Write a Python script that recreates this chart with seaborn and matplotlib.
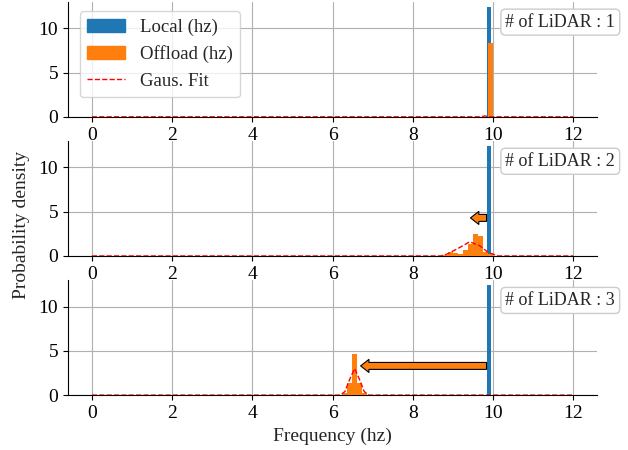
import numpy as np
import matplotlib
matplotlib.use("Agg")
import matplotlib.pyplot as plt
import seaborn as sns
from matplotlib.patches import Patch
from matplotlib.lines import Line2D

# valori
n_lidar = [1, 2, 3]
local_freq = 9.9
local_height = 12.4
bin_width = 0.125

offload_centers = [
    [9.93],
    [8.81, 8.94, 9.06, 9.19, 9.31, 9.44, 9.56, 9.69, 9.81, 9.94],
    [6.31, 6.43, 6.555, 6.675, 6.795],
]
offload_heights = [
    [8.3],
    [0.15, 0.45, 0.3, 0.2, 0.7, 1.3, 2.5, 2.3, 0.5, 0.2],
    [0.2, 1.35, 4.7, 1.4, 0.2],
]

fit_x = [
    [0.0, 9.7, 9.8, 9.9, 12.0],
    [0.0, 8.7, 8.85, 9.13, 9.42, 9.67, 9.88, 10.13, 12.0],
    [0.0, 6.19, 6.31, 6.43, 6.55, 6.67, 6.79, 6.91, 12.0],
]
fit_y = [
    [0.0, 0.0, 0.1, 0.0, 0.0],
    [0.0, 0.0, 0.2, 0.85, 1.6, 1.15, 0.4, 0.0, 0.0],
    [0.0, 0.0, 0.4, 1.8, 3.0, 1.8, 0.4, 0.0, 0.0],
]

# frecce: (y, coda, punta)
arrows = {1: (4.3, 9.84, 9.44), 2: (3.3, 9.84, 6.70)}

sns.set_style("ticks", {"axes.grid": True, "grid.color": "#b0b0b0"})
plt.rcParams["font.family"] = "serif"
plt.rcParams["font.serif"] = ["Liberation Serif", "DejaVu Serif"]
plt.rcParams["font.size"] = 14

fig, axes = plt.subplots(3, 1, figsize=(6.28, 4.5), dpi=100)
fig.subplots_adjust(left=0.108, right=0.951, top=0.996, bottom=0.122, hspace=0.21)

blue = "#1f77b4"
orange = "#ff7f0e"

for i, ax in enumerate(axes):
    ax.bar([local_freq], [local_height], width=0.09, color=blue, linewidth=0, zorder=2)
    ax.bar(offload_centers[i], offload_heights[i], width=bin_width, color=orange,
           linewidth=0, zorder=3)
    sns.lineplot(x=fit_x[i], y=fit_y[i], ax=ax, color="red", linestyle="--",
                 linewidth=1, sort=False, estimator=None, zorder=4)
    ax.set_xlim(-0.6, 12.6)
    ax.set_ylim(0, 13)
    ax.set_xticks(range(0, 13, 2))
    ax.set_yticks([0, 5, 10])
    ax.grid(True, color="#b0b0b0", linewidth=0.8)
    ax.set_axisbelow(True)
    for s in ["left", "bottom"]:
        ax.spines[s].set_color("black")
        ax.spines[s].set_linewidth(0.8)
    ax.tick_params(colors="black", length=3.5, width=0.8, labelsize=14)
    sns.despine(ax=ax)
    ax.text(10.31, 10.7, f"# of LiDAR : {n_lidar[i]}", va="center", ha="left", fontsize=13,
            bbox=dict(boxstyle="round,pad=0.25", fc="white", ec="0.8"), zorder=6)
    if i in arrows:
        y, tail, tip = arrows[i]
        ax.annotate("", xy=(tip, y), xytext=(tail, y),
                    arrowprops=dict(arrowstyle="simple,head_width=0.47,head_length=0.3,tail_width=0.25",
                                    mutation_scale=20, fc=orange, ec="black", lw=0.8,
                                    shrinkA=0, shrinkB=0), zorder=5)

handles = [Patch(color=blue, label="Local (hz)"),
           Patch(color=orange, label="Offload (hz)"),
           Line2D([], [], color="red", linestyle="--", linewidth=1, label="Gaus. Fit")]
axes[0].legend(handles=handles, loc="upper left", bbox_to_anchor=(0.005, 1.0),
               framealpha=0.8, edgecolor="0.8", fontsize=13.5)

axes[2].set_xlabel("Frequency (hz)", fontsize=14)
fig.text(0.035, 0.5, "Probability density", rotation=90, ha="center", va="center",
         fontsize=14)

plt.savefig("out.png", dpi=100)
